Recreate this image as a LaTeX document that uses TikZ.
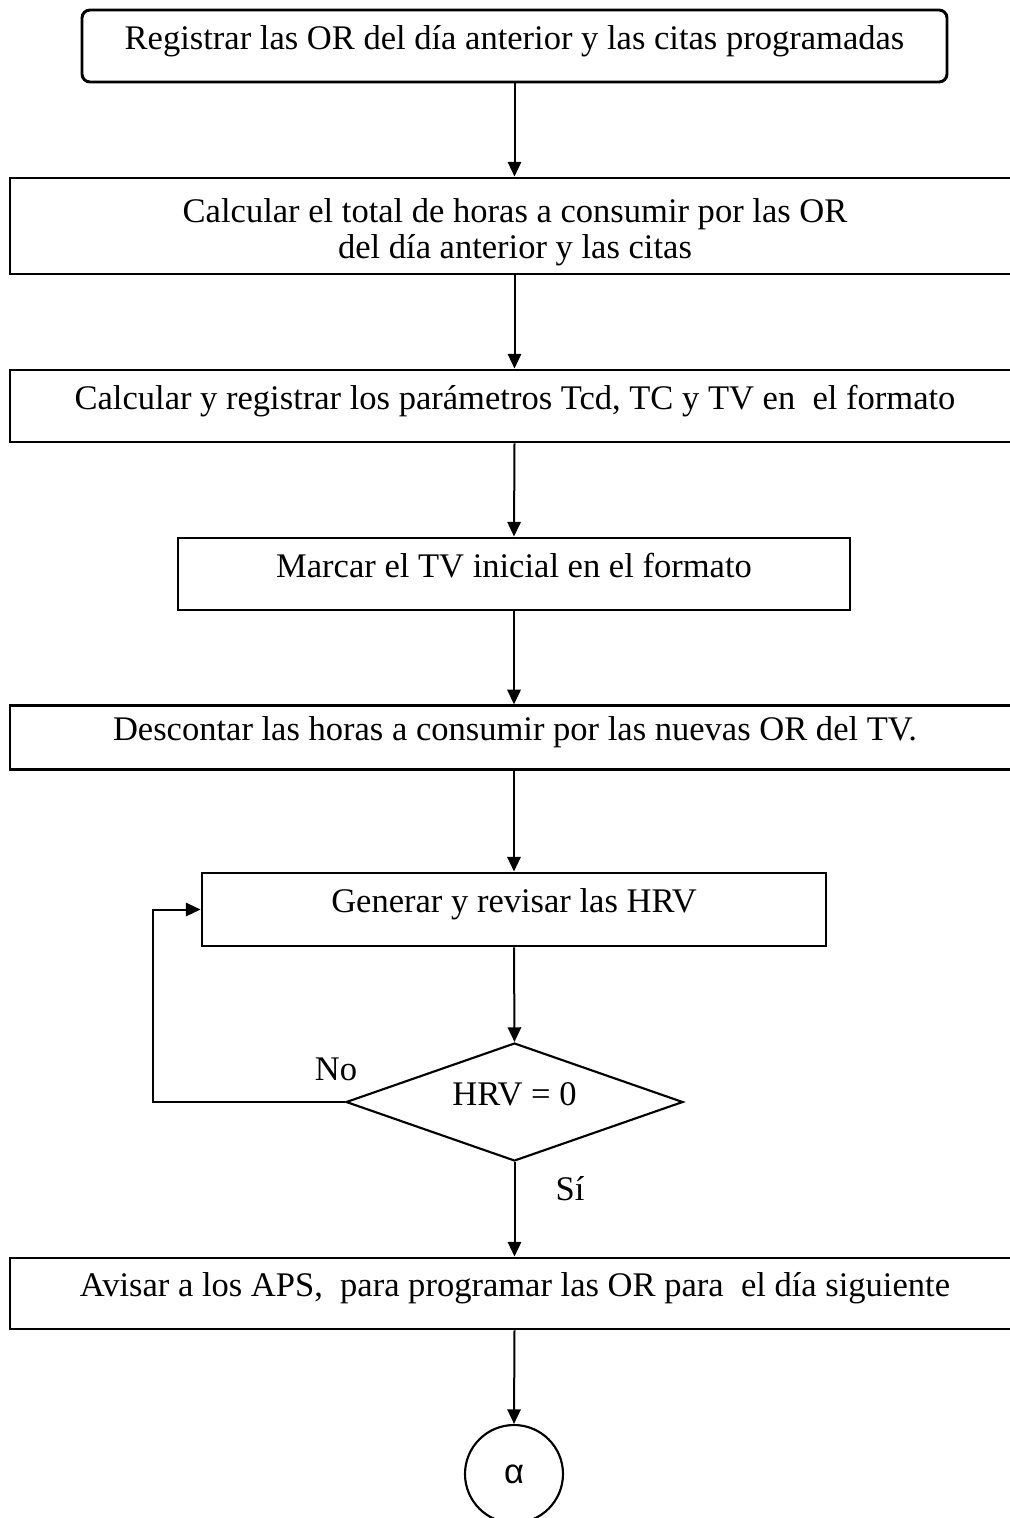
\documentclass[tikz,border=0pt]{standalone}
\usepackage{fontspec}
\setmainfont{Liberation Serif}
\newfontfamily\greekfont{Liberation Sans}
\usetikzlibrary{shapes.geometric,arrows.meta}

\begin{document}
\begin{tikzpicture}[x=0.75pt,y=-0.75pt,
  every node/.style={font=\fontsize{25.9}{27}\selectfont, inner sep=0pt},
  box/.style={draw, line width=2.2pt},
  onebox/.style={box, text height=0.7em, text depth=0.25em},
  decision/.style={draw, line width=1.6pt, shape=diamond, shape aspect=2.85,
    minimum width=252.75pt, minimum height=88.5pt, text height=0.7em, text depth=0.25em},
  connector/.style={draw, line width=1.6pt, shape=circle, minimum size=73.5pt},
  flow/.style={line width=1.5pt, -{Triangle[length=11pt,width=10pt]}},
  tag/.style={},
]
\useasboundingbox (0,0) rectangle (1010,1518);
\clip (0,0) rectangle (1010,1518);

% process steps
\node[onebox, rounded corners=6pt, minimum width=648.75pt, minimum height=54pt]
  (b1) at (514.5,46) {Registrar las OR del día anterior y las citas programadas};
\node[box, align=center, minimum width=757.5pt, minimum height=72pt]
  (b2) at (515,226) {\rule{0pt}{1.03em}Calcular el total de horas a consumir por las OR\\del día anterior y las citas};
\node[onebox, minimum width=757.5pt, minimum height=54pt]
  (b3) at (515,406) {Calcular y registrar los parámetros Tcd, TC y TV en\ \ el formato};
\node[onebox, minimum width=504pt, minimum height=54pt]
  (b4) at (514,574) {Marcar el TV inicial en el formato};
\node[onebox, minimum width=757.5pt, minimum height=47.5pt]
  (b5) at (515,737.5) {Descontar las horas a consumir por las nuevas OR del TV.};
\node[onebox, minimum width=468pt, minimum height=54.75pt]
  (b6) at (514,909.5) {Generar y revisar las HRV};
\node[decision] (dec) at (514.5,1102) {HRV = 0};
\node[onebox, minimum width=757.5pt, minimum height=53.25pt]
  (b8) at (515,1293.5) {Avisar a los APS,\ \ para programar las OR para\ \ el día siguiente};
\node[connector] (end) at (514,1474) {\greekfont α};

% branch labels
\node[tag] (no) at (336,1069) {No};
\node[tag] (si) at (570,1189) {Sí};

% connectors
\draw[flow] (b1.south) -- (b1.south |- b2.north);
\draw[flow] (b1.south |- b2.south) -- (b1.south |- b3.north);
\draw[flow] (b1.south |- b3.south) -- (b4.north);
\draw[flow] (b4.south) -- (b4.south |- b5.north);
\draw[flow] (b4.south |- b5.south) -- (b6.north);
\draw[flow] (b6.south) -- (dec.north);
\draw[flow] (dec.south) -- (dec.south |- b8.north);
\draw[flow] (dec.south |- b8.south) -- (end.north);
\draw[flow] (dec.west) -- ++(-192,0) |- (b6.west);
\end{tikzpicture}
\end{document}
